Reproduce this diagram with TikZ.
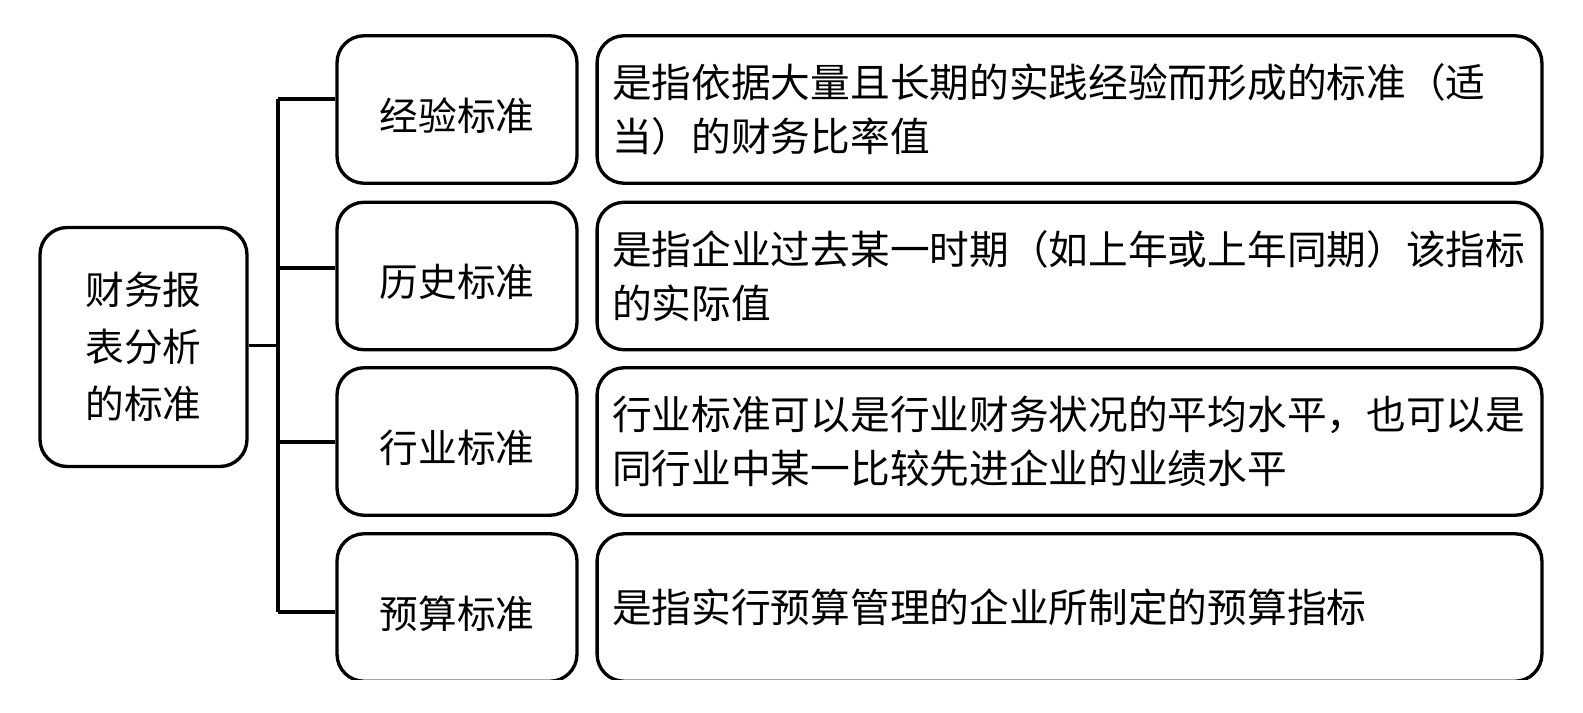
\documentclass[tikz,border=0pt]{standalone}
\usepackage{fontspec}
\setmainfont{Noto Sans CJK SC}
\newcommand{\lowered}[1]{\raisebox{-3.5pt}[\height][\depth]{#1}}
\begin{document}
\begin{tikzpicture}[x=0.02cm,y=-0.02cm,
  box/.style={draw,line width=1.9pt,rounded corners=0.54cm,inner sep=0pt},
  midbox/.style={box,minimum width=4.8cm,minimum height=2.95cm,font=\fontsize{22pt}{30pt}\selectfont},
  descbox/.style={box,minimum width=18.9cm,minimum height=2.95cm,align=left,text width=18.3cm,
     font=\fontsize{22.6pt}{31pt}\selectfont},
  conn/.style={line width=1.9pt}]
\useasboundingbox (0,0) rectangle (1583,713);
\node[box,minimum width=4.14cm,minimum height=4.78cm,align=center,
  font=\fontsize{22pt}{32.5pt}\selectfont] (root) at (143.5,347) {财务报\\表分析\\的标准};
\node[midbox] (m1) at (457,109.5) {\lowered{经验标准}};
\node[midbox] (m2) at (457,276) {\lowered{历史标准}};
\node[midbox] (m3) at (457,441.5) {\lowered{行业标准}};
\node[descbox] (d1) at (1069.5,109.5) {是指依据大量且长期的实践经验而形成的标准（适\\当）的财务比率值};
\node[descbox] (d2) at (1069.5,276) {是指企业过去某一时期（如上年或上年同期）该指标\\的实际值};
\node[descbox] (d3) at (1069.5,441.5) {行业标准可以是行业财务状况的平均水平，也可以是\\同行业中某一比较先进企业的业绩水平};
\begin{scope}
\clip (0,0) rectangle (1583,679);
\node[midbox] (m4) at (457,607.5) {\lowered{预算标准}};
\node[descbox] (d4) at (1069.5,607.5) {是指实行预算管理的企业所制定的预算指标};
\end{scope}
\coordinate (t1) at (278,99);
\coordinate (t2) at (278,268);
\coordinate (t3) at (278,442);
\coordinate (t4) at (278,612);
\coordinate (tr) at (278,345.5);
\draw[conn] (t1) -- (t4);
\draw[conn] (root.east |- tr) -- (tr);
\draw[conn] (t1) -- (t1 -| m1.west);
\draw[conn] (t2) -- (t2 -| m2.west);
\draw[conn] (t3) -- (t3 -| m3.west);
\draw[conn] (t4) -- (t4 -| m4.west);
\end{tikzpicture}
\end{document}
